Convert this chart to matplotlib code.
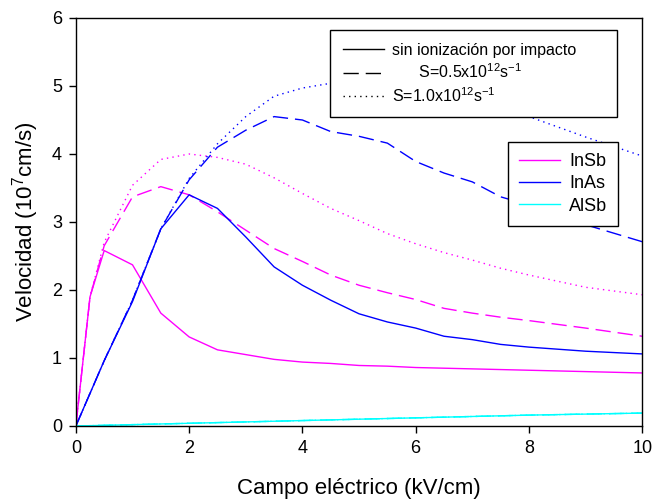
import matplotlib
matplotlib.use("Agg")
import matplotlib.pyplot as plt
from matplotlib.lines import Line2D

plt.rcParams['font.family'] = ['Liberation Sans', 'DejaVu Sans']
plt.rcParams['mathtext.fontset'] = 'custom'
plt.rcParams['mathtext.rm'] = 'Liberation Sans'
plt.rcParams['mathtext.it'] = 'Liberation Sans'

# campo electrico (kV/cm)
campo = [0, 0.25, 0.5, 1, 1.5, 2, 2.5, 3, 3.5, 4, 4.5, 5, 5.5, 6, 6.5, 7, 7.5, 8, 9, 10]

# InSb
insb_sin = [0, 1.9, 2.58, 2.37, 1.66, 1.31, 1.12, 1.05, 0.98, 0.94, 0.92, 0.89,
            0.88, 0.86, 0.85, 0.84, 0.83, 0.82, 0.80, 0.78]
insb_05 = [0, 1.9, 2.65, 3.37, 3.52, 3.40, 3.15, 2.88, 2.61, 2.42, 2.22, 2.07,
           1.96, 1.86, 1.73, 1.66, 1.60, 1.55, 1.44, 1.32]
insb_10 = [0, 1.9, 2.7, 3.54, 3.92, 4.0, 3.95, 3.85, 3.65, 3.42, 3.2, 3.02,
           2.83, 2.68, 2.55, 2.44, 2.32, 2.22, 2.04, 1.93]

# InAs
inas_sin = [0, 0.48, 0.96, 1.83, 2.9, 3.40, 3.20, 2.78, 2.34, 2.07, 1.85, 1.65,
            1.53, 1.44, 1.32, 1.27, 1.20, 1.16, 1.10, 1.06]
inas_05 = [0, 0.48, 0.96, 1.85, 2.9, 3.62, 4.1, 4.35, 4.55, 4.5, 4.33, 4.26,
           4.16, 3.89, 3.72, 3.59, 3.37, 3.25, 2.96, 2.71]
inas_10 = [0, 0.48, 0.96, 1.85, 2.9, 3.64, 4.15, 4.55, 4.85, 4.97, 5.04, 5.05,
           5.0, 4.95, 4.85, 4.75, 4.65, 4.55, 4.25, 3.97]

# AlSb
alsb = [0, 0.005, 0.01, 0.02, 0.03, 0.04, 0.05, 0.06, 0.07, 0.08, 0.09, 0.10,
        0.11, 0.12, 0.13, 0.14, 0.15, 0.16, 0.175, 0.19]

fig = plt.figure(figsize=(6.54, 5.0), dpi=100)
ax = fig.add_axes([0.116, 0.148, 0.866, 0.816])

magenta = '#ff00ff'
blue = '#0000ff'
cyan = '#00ffff'
dash = (0, (11, 5))
dot = (0, (1, 3))

ax.plot(campo, insb_sin, color=magenta, lw=1)
ax.plot(campo, insb_05, color=magenta, lw=1, linestyle=dash)
ax.plot(campo, insb_10, color=magenta, lw=1, linestyle=dot)
ax.plot(campo, inas_sin, color=blue, lw=1)
ax.plot(campo, inas_05, color=blue, lw=1, linestyle=dash)
ax.plot(campo, inas_10, color=blue, lw=1, linestyle=dot)
ax.plot(campo, alsb, color=cyan, lw=1)
ax.plot(campo, alsb, color=cyan, lw=1, linestyle=dash)
ax.plot(campo, alsb, color=cyan, lw=1, linestyle=dot)

ax.set_xlim(0, 10)
ax.set_ylim(0, 6)
ax.set_xticks([0, 2, 4, 6, 8, 10])
ax.set_yticks([0, 1, 2, 3, 4, 5, 6])
ax.tick_params(direction='out', labelsize=13, length=5, width=1, pad=5)
for s in ax.spines.values():
    s.set_linewidth(1)

ax.set_xlabel("Campo eléctrico (kV/cm)", fontsize=16, labelpad=15)
ax.set_ylabel("Velocidad (10$^{7}$cm/s)", fontsize=16, labelpad=8)

# leyenda de estilos
h1 = [Line2D([], [], color='k', lw=1),
      Line2D([], [], color='k', lw=1, linestyle=dash),
      Line2D([], [], color='k', lw=1, linestyle=dot)]
l1 = ["sin ionización por impacto",
      "      S=0.5x10$^{12}$s$^{-1}$",
      "S=1.0x10$^{12}$s$^{-1}$"]
leg1 = ax.legend(h1, l1, loc='upper left',
                 bbox_to_anchor=(0.449, 0.20, 0.507, 0.771), mode='expand',
                 fontsize=11.5, handlelength=2.6, handletextpad=0.5,
                 labelspacing=0.3, borderpad=0.8, borderaxespad=0,
                 fancybox=False, framealpha=1, edgecolor='black')
leg1.get_frame().set_linewidth(1)
ax.add_artist(leg1)

# leyenda de materiales
h2 = [Line2D([], [], color=magenta, lw=1),
      Line2D([], [], color=blue, lw=1),
      Line2D([], [], color=cyan, lw=1)]
leg2 = ax.legend(h2, ["InSb", "InAs", "AlSb"], loc='upper left',
                 bbox_to_anchor=(0.763, 0.696), fontsize=13, handlelength=2.3,
                 handletextpad=0.5, labelspacing=0.3, borderpad=0.6,
                 borderaxespad=0, fancybox=False, framealpha=1,
                 edgecolor='black')
leg2.get_frame().set_linewidth(1)

fig.savefig("out.png", dpi=100)
